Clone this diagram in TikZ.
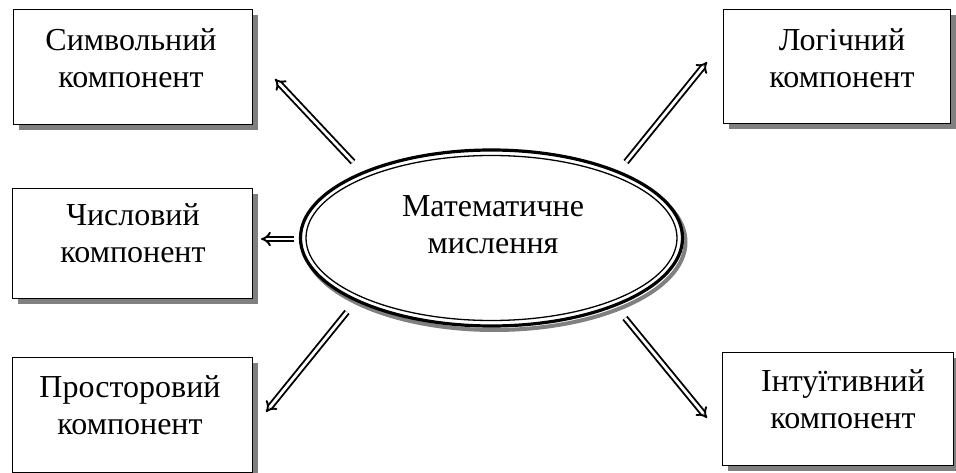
\documentclass[tikz,border=0pt]{standalone}
\usepackage{fontspec}
\setmainfont{Liberation Serif}
\usetikzlibrary{arrows.meta,shadows}
\definecolor{shadowgray}{HTML}{808080}
\begin{document}
\begin{tikzpicture}[x=1pt,y=-1pt,
  box/.style={draw, line width=1.4pt, fill=white, inner sep=0pt,
    anchor=north west,
    general shadow={fill=shadowgray, shadow xshift=5pt, shadow yshift=-5pt}},
  lbl/.style={align=center, inner sep=0pt, font=\fontsize{32}{37}\selectfont},
  dbl/.style={double, line width=1.9pt, double distance=2.8pt, -{Implies[scale=1.4]}}
]
\useasboundingbox (0,0) rectangle (956,473);

% boxes
\node[box, minimum width=239pt, minimum height=115pt] (b1) at (13,9) {};
\node[box, minimum width=240pt, minimum height=110pt] (b2) at (12,188) {};
\node[box, minimum width=240pt, minimum height=115pt] (b3) at (12,357) {};
\node[box, minimum width=227pt, minimum height=114pt] (b4) at (723,9) {};
\node[box, minimum width=231pt, minimum height=113pt] (b5) at (722,352) {};

\node[lbl] (t1) at (131,58) {Символьний\\компонент};
\node[lbl] (t2) at (133,233) {Числовий\\компонент};
\node[lbl] (t3) at (130,405) {Просторовий\\компонент};
\node[lbl] (t4) at (842,58) {Логічний\\компонент};
\node[lbl] (t5) at (843,399) {Інтуїтивний\\компонент};

% ellipse: shadow, outer thick line, inner thin line
\draw[shadowgray, line width=4pt] (494.5,242) ellipse [x radius=191pt, y radius=88pt];
\draw[line width=3.2pt, fill=white] (491.5,238) ellipse [x radius=191pt, y radius=88pt];
\draw[line width=1.3pt] (491.5,238) ellipse [x radius=185.5pt, y radius=82.5pt];
\node[lbl] (m) at (493,225) {Математичне\\мислення};

% arrow end points
\coordinate (s1) at (353,162); \coordinate (e1) at (275,79);
\coordinate (s2) at (294,239); \coordinate (e2) at (261,239);
\coordinate (s3) at (347,312); \coordinate (e3) at (266,412);
\coordinate (s4) at (626,162); \coordinate (e4) at (707,62);
\coordinate (s5) at (625,318); \coordinate (e5) at (707,418);

\draw[dbl] (s1) -- (e1);
\draw[dbl] (s2) -- (e2);
\draw[dbl] (s3) -- (e3);
\draw[dbl] (s4) -- (e4);
\draw[dbl] (s5) -- (e5);
\end{tikzpicture}
\end{document}
